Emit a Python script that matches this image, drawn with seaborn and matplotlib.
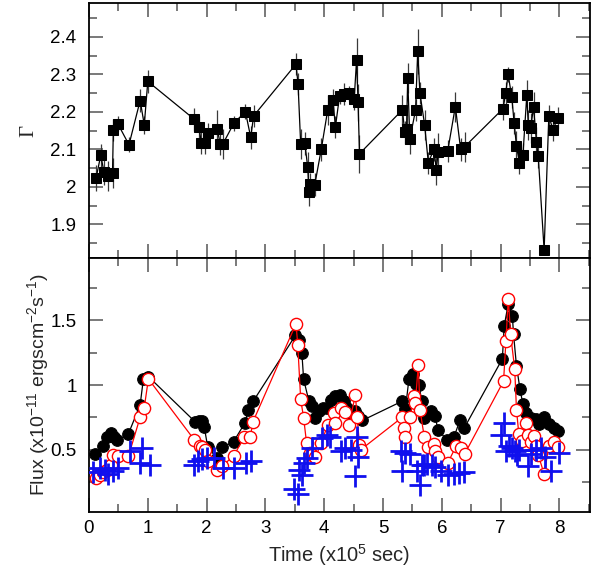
import matplotlib
matplotlib.use("Agg")
import matplotlib.pyplot as plt
import numpy as np
import pandas as pd
import seaborn as sns
from matplotlib.ticker import MultipleLocator, FuncFormatter

# ---------------- data ----------------
gamma_time = [0.12, 0.20, 0.255, 0.33, 0.40, 0.414, 0.49, 0.68, 0.87, 0.94,
              1.00, 1.79, 1.87, 1.91, 1.975, 2.03, 2.18, 2.23, 2.28, 2.465,
              2.66, 2.75, 2.80, 3.52, 3.555, 3.60, 3.67, 3.72, 3.74, 3.765,
              3.84, 3.95, 4.06, 4.15, 4.19, 4.26, 4.34, 4.43, 4.51, 4.55,
              4.576, 4.60, 5.33, 5.37, 5.40, 5.42, 5.456, 5.554, 5.59, 5.627,
              5.707, 5.77, 5.866, 5.906, 5.94, 6.10, 6.23, 6.32, 6.39, 7.04,
              7.087, 7.127, 7.19, 7.23, 7.27, 7.32, 7.38, 7.445, 7.47, 7.51,
              7.56, 7.61, 7.64, 7.74, 7.82, 7.89, 7.97]
gamma_index = [2.023, 2.084, 2.039, 2.030, 2.038, 2.152, 2.168, 2.112, 2.230, 2.165,
               2.281, 2.180, 2.160, 2.117, 2.117, 2.144, 2.155, 2.115, 2.115, 2.170,
               2.200, 2.132, 2.189, 2.327, 2.274, 2.113, 2.116, 2.052, 1.985, 2.008,
               2.006, 2.100, 2.205, 2.232, 2.159, 2.241, 2.248, 2.250, 2.234, 2.338,
               2.225, 2.088, 2.205, 2.145, 2.155, 2.289, 2.127, 2.205, 2.362, 2.250,
               2.166, 2.064, 2.100, 2.046, 2.094, 2.095, 2.214, 2.100, 2.107, 2.208,
               2.249, 2.300, 2.239, 2.170, 2.108, 2.064, 2.086, 2.244, 2.166, 2.156,
               2.212, 2.119, 2.081, 1.831, 2.189, 2.152, 2.183]
gamma_err = [0.035, 0.030, 0.035, 0.040, 0.040, 0.030, 0.020, 0.020, 0.030, 0.025,
             0.030, 0.030, 0.030, 0.030, 0.030, 0.025, 0.050, 0.030, 0.040, 0.020,
             0.020, 0.030, 0.030, 0.030, 0.030, 0.040, 0.030, 0.040, 0.035, 0.030,
             0.030, 0.030, 0.040, 0.030, 0.030, 0.020, 0.030, 0.020, 0.030, 0.060,
             0.050, 0.050, 0.040, 0.030, 0.040, 0.040, 0.040, 0.030, 0.060, 0.030,
             0.040, 0.030, 0.030, 0.040, 0.050, 0.030, 0.040, 0.030, 0.040, 0.030,
             0.030, 0.020, 0.030, 0.030, 0.040, 0.030, 0.030, 0.040, 0.040, 0.040,
             0.040, 0.040, 0.030, 0.010, 0.030, 0.030, 0.030]

total_time = [0.10, 0.23, 0.30, 0.37, 0.43, 0.48, 0.67, 0.87, 0.925, 1.01,
              1.80, 1.87, 1.93, 1.96, 2.02, 2.17, 2.27, 2.46, 2.65, 2.71,
              2.79, 3.51, 3.57, 3.62, 3.65, 3.74, 3.79, 3.84, 3.91, 3.98,
              4.05, 4.12, 4.19, 4.26, 4.33, 4.39, 4.45, 4.52, 4.57, 4.65,
              5.33, 5.38, 5.44, 5.51, 5.56, 5.61, 5.66, 5.70, 5.81, 5.89,
              5.93, 6.09, 6.21, 6.31, 6.38, 7.03, 7.06, 7.13, 7.20, 7.22,
              7.27, 7.33, 7.38, 7.44, 7.51, 7.60, 7.65, 7.74, 7.82, 7.91,
              7.98]
total_flux = [0.467, 0.526, 0.595, 0.628, 0.595, 0.572, 0.623, 0.847, 1.047, 1.065,
              0.718, 0.726, 0.720, 0.677, 0.518, 0.440, 0.518, 0.564, 0.706, 0.808,
              0.873, 1.382, 1.351, 1.249, 1.043, 0.876, 0.838, 0.747, 0.800, 0.819,
              0.824, 0.886, 0.914, 0.922, 0.876, 0.820, 0.778, 0.800, 0.760, 0.727,
              0.876, 0.811, 1.043, 1.087, 1.004, 1.000, 0.876, 0.747, 0.800, 0.760,
              0.654, 0.577, 0.602, 0.731, 0.667, 1.202, 1.454, 1.626, 1.531, 1.390,
              1.146, 0.966, 0.850, 0.786, 0.742, 0.734, 0.696, 0.752, 0.696, 0.670,
              0.645]

soft_time = [0.12, 0.19, 0.24, 0.30, 0.37, 0.41, 0.49, 0.67, 0.87, 0.94,
             1.01, 1.79, 1.88, 1.92, 1.97, 2.02, 2.17, 2.26, 2.46, 2.64,
             2.74, 2.79, 3.52, 3.55, 3.60, 3.65, 3.70, 3.75, 3.80, 3.85,
             3.95, 4.06, 4.16, 4.19, 4.28, 4.36, 4.42, 4.53, 4.56, 4.60,
             4.62, 5.33, 5.36, 5.38, 5.46, 5.52, 5.55, 5.60, 5.63, 5.70,
             5.77, 5.87, 5.89, 5.93, 6.10, 6.24, 6.32, 6.39, 7.05, 7.09,
             7.13, 7.17, 7.24, 7.27, 7.31, 7.37, 7.43, 7.46, 7.51, 7.57,
             7.60, 7.64, 7.74, 7.82, 7.90, 7.97]
soft_flux = [0.282, 0.307, 0.325, 0.346, 0.384, 0.461, 0.454, 0.449, 0.752, 0.826,
             1.047, 0.577, 0.526, 0.518, 0.500, 0.415, 0.346, 0.372, 0.454, 0.595,
             0.595, 0.718, 1.472, 1.312, 0.889, 0.747, 0.552, 0.474, 0.461, 0.441,
             0.552, 0.693, 0.783, 0.706, 0.826, 0.788, 0.693, 0.922, 0.752, 0.539,
             0.500, 0.752, 0.672, 0.602, 0.752, 0.914, 0.863, 1.158, 0.808, 0.602,
             0.518, 0.544, 0.487, 0.448, 0.397, 0.526, 0.513, 0.469, 1.030, 1.338,
             1.667, 1.390, 1.120, 0.808, 0.620, 0.569, 0.706, 0.616, 0.564, 0.608,
             0.533, 0.461, 0.312, 0.526, 0.564, 0.518]

hard_time = [0.07, 0.19, 0.27, 0.33, 0.41, 0.49, 0.70, 0.87, 0.90, 1.04,
             1.78, 1.86, 1.93, 2.00, 2.12, 2.28, 2.47, 2.67, 2.76, 3.48,
             3.55, 3.57, 3.62, 3.65, 3.71, 3.79, 3.96, 4.05, 4.10, 4.28,
             4.36, 4.45, 4.53, 4.56, 4.57, 5.30, 5.33, 5.38, 5.46, 5.58,
             5.63, 5.67, 5.70, 5.75, 5.84, 5.89, 5.99, 6.11, 6.21, 6.29,
             6.37, 7.00, 7.05, 7.09, 7.14, 7.19, 7.24, 7.28, 7.32, 7.46,
             7.51, 7.60, 7.68, 7.76, 7.85, 8.00]
hard_flux = [0.328, 0.359, 0.346, 0.313, 0.333, 0.359, 0.487, 0.397, 0.513, 0.379,
             0.384, 0.410, 0.430, 0.440, 0.436, 0.359, 0.359, 0.397, 0.410, 0.196,
             0.157, 0.346, 0.307, 0.397, 0.436, 0.513, 0.590, 0.616, 0.602, 0.487,
             0.513, 0.500, 0.294, 0.602, 0.448, 0.487, 0.333, 0.474, 0.467, 0.333,
             0.230, 0.384, 0.384, 0.390, 0.384, 0.364, 0.338, 0.307, 0.312, 0.320,
             0.328, 0.616, 0.706, 0.487, 0.526, 0.513, 0.487, 0.461, 0.500, 0.372,
             0.469, 0.500, 0.513, 0.448, 0.333, 0.474]

x_ticks = [0, 1, 2, 3, 4, 5, 6, 7, 8]

# ---------------- style ----------------
sns.set_style("white")
plt.rcParams["font.family"] = ["Liberation Sans", "DejaVu Sans"]
plt.rcParams["mathtext.fontset"] = "custom"
plt.rcParams["mathtext.rm"] = "Liberation Sans"
plt.rcParams["mathtext.it"] = "Liberation Sans"

gamma_df = pd.DataFrame({"time": gamma_time, "gamma": gamma_index, "err": gamma_err})
total_df = pd.DataFrame({"time": total_time, "flux": total_flux})
soft_df = pd.DataFrame({"time": soft_time, "flux": soft_flux})
hard_df = pd.DataFrame({"time": hard_time, "flux": hard_flux})

fig = plt.figure(figsize=(5.94, 5.78), dpi=100)
L, W = 89 / 594, 501 / 594
ax1 = fig.add_axes([L, 1 - 258 / 578, W, 255 / 578])
ax2 = fig.add_axes([L, 1 - 512 / 578, W, 254 / 578])

# top panel: photon index
ax1.errorbar(gamma_df["time"], gamma_df["gamma"], yerr=gamma_df["err"],
             fmt="none", ecolor="#3a3a3a", elinewidth=0.9, capsize=0, zorder=1)
sns.lineplot(data=gamma_df, x="time", y="gamma", ax=ax1, estimator=None, sort=False,
             color="black", linewidth=0.9, marker="s", markersize=7.4,
             markeredgecolor="black", markerfacecolor="black", zorder=3, legend=False)

# bottom panel: fluxes
sns.lineplot(data=total_df, x="time", y="flux", ax=ax2, estimator=None, sort=False,
             color="black", linewidth=0.9, marker="o", markersize=8.4,
             markeredgecolor="black", markerfacecolor="black", zorder=2, legend=False)
sns.lineplot(data=soft_df, x="time", y="flux", ax=ax2, estimator=None, sort=False,
             color="red", linewidth=0.9, marker="o", markersize=8.8,
             markeredgecolor="red", markerfacecolor="white", markeredgewidth=1.0,
             zorder=3, legend=False)
sns.scatterplot(data=hard_df, x="time", y="flux", ax=ax2, marker="+", s=240,
                color="#1010ee", linewidth=2.0, zorder=4, legend=False)

fmt = FuncFormatter(lambda v, p: f"{v:g}")
for ax in (ax1, ax2):
    ax.set_xlim(0, 8.52)
    ax.xaxis.set_major_locator(MultipleLocator(1))
    ax.xaxis.set_minor_locator(MultipleLocator(0.5))
    ax.tick_params(which="both", direction="in", top=True, right=True,
                   bottom=True, left=True, colors="#555555", labelcolor="black",
                   labelsize=13.5)
    ax.tick_params(which="major", length=10, width=1.1)
    ax.tick_params(which="minor", length=5.5, width=1.1)
    ax.tick_params(axis="y", pad=9)
    ax.tick_params(axis="x", pad=6)
    for s in ax.spines.values():
        s.set_color("black")
        s.set_linewidth(1.3)
    ax.set_xlabel("")

ax1.set_ylim(1.81, 2.49)
ax1.yaxis.set_major_locator(MultipleLocator(0.1))
ax1.yaxis.set_minor_locator(MultipleLocator(0.05))
ax1.yaxis.set_major_formatter(fmt)
ax1.tick_params(axis="x", labelbottom=False)
ax1.set_ylabel("Γ", fontsize=15, family=["Liberation Serif", "DejaVu Serif"])
ax1.yaxis.set_label_coords(-0.102, 0.5)

ax2.set_ylim(0.02, 1.98)
ax2.yaxis.set_major_locator(MultipleLocator(0.5))
ax2.yaxis.set_minor_locator(MultipleLocator(0.25))
ax2.yaxis.set_major_formatter(fmt)
ax2.set_xticks(x_ticks)
ax2.xaxis.set_major_formatter(fmt)
ax2.set_ylabel(r"Flux (x10$^{\mathregular{-11}}$ ergscm$^{\mathregular{-2}}$s$^{\mathregular{-1}}$)",
               fontsize=14)
ax2.yaxis.set_label_coords(-0.075, 0.5)
ax2.set_xlabel(r"Time (x10$^{\mathregular{5}}$ sec)", fontsize=14.5)
ax2.xaxis.set_label_coords(0.5, -0.12)

fig.savefig("out.png", dpi=100)
